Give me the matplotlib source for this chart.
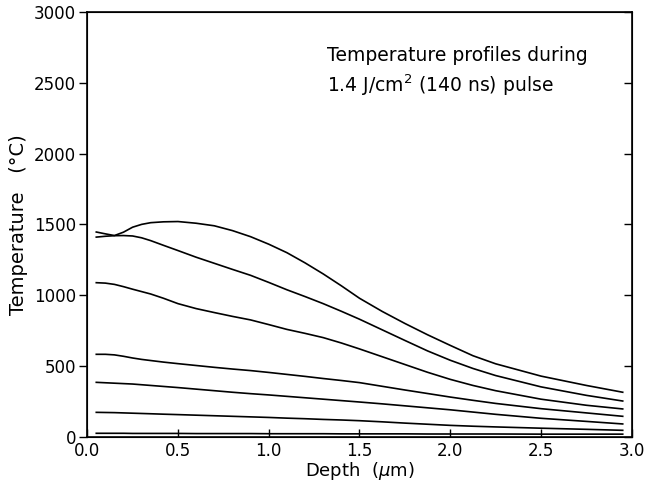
import numpy as np
import matplotlib
matplotlib.use("Agg")
import matplotlib.pyplot as plt

# depth grid (um) shared by all profiles
depth = [0.05, 0.1, 0.15, 0.2, 0.25, 0.3, 0.35, 0.42, 0.5, 0.6, 0.7, 0.8,
         0.9, 1.0, 1.1, 1.2, 1.3, 1.4, 1.5, 1.625, 1.75, 1.875, 2.0, 2.125,
         2.25, 2.5, 2.75, 2.95]

# temperature profiles (deg C), highest to lowest
tA = [1446, 1433, 1421, 1445, 1480, 1500, 1512, 1518, 1520, 1508, 1490, 1456,
      1413, 1360, 1300, 1228, 1150, 1066, 978, 885, 800, 720, 645, 572,
      515, 428, 362, 314]
tB = [1410, 1416, 1420, 1421, 1418, 1405, 1385, 1352, 1315, 1268, 1225, 1182,
      1140, 1090, 1038, 990, 940, 886, 830, 755, 680, 606, 540, 482,
      432, 352, 292, 252]
tC = [1088, 1085, 1076, 1060, 1042, 1025, 1008, 978, 940, 905, 877, 850,
      825, 792, 758, 730, 700, 662, 620, 565, 510, 455, 405, 362,
      325, 265, 222, 196]
tD = [582, 582, 578, 568, 556, 546, 538, 527, 516, 503, 490, 478,
      467, 454, 440, 426, 411, 397, 382, 356, 330, 305, 280, 257,
      235, 198, 168, 144]
tE = [384, 381, 378, 375, 372, 367, 362, 355, 347, 336, 325, 314,
      304, 295, 285, 275, 265, 255, 245, 232, 218, 204, 190, 174,
      158, 130, 108, 90]
tF = [172, 171, 170, 168, 166, 164, 162, 159, 156, 152, 148, 144,
      140, 136, 131, 127, 122, 118, 113, 105, 96, 88, 80, 74,
      69, 60, 52, 45]
tG = [24, 24, 24, 24, 23, 23, 23, 23, 23, 22, 22, 22,
      22, 21, 21, 21, 21, 20, 20, 20, 20, 19, 19, 19,
      19, 18, 18, 18]

profiles = [tA, tB, tC, tD, tE, tF, tG]

xticks = [0.0, 0.5, 1.0, 1.5, 2.0, 2.5, 3.0]
yticks = [0, 500, 1000, 1500, 2000, 2500, 3000]

fig = plt.figure(figsize=(6.46, 4.82), dpi=100)
ax = fig.add_axes([0.135, 0.094, 0.843, 0.881])

for t in profiles:
    ax.plot(depth, t, color='black', lw=1.2)

ax.set_xlim(0, 3.0)
ax.set_ylim(0, 3000)
ax.set_xticks(xticks)
ax.set_xticklabels(['%.1f' % v for v in xticks])
ax.set_yticks(yticks)

ax.tick_params(axis='x', direction='in', length=6, width=1, labelsize=12, pad=4)
ax.tick_params(axis='y', direction='out', length=6, width=1, labelsize=12, pad=2)
for s in ax.spines.values():
    s.set_linewidth(1.2)

# right side ticks point inward
ax2 = ax.twinx()
ax2.set_ylim(0, 3000)
ax2.set_yticks(yticks)
ax2.tick_params(axis='y', direction='in', length=6, width=1, labelright=False)

ax.set_xlabel(r'Depth  ($\mu$m)', fontsize=13, labelpad=0)
ax.set_ylabel('Temperature   (°C)', fontsize=14, labelpad=4)

ax.text(0.44, 0.92, 'Temperature profiles during\n1.4 J/cm$^2$ (140 ns) pulse',
        transform=ax.transAxes, fontsize=13.5, va='top', ha='left',
        linespacing=1.4)

fig.savefig('out.png', dpi=100)
